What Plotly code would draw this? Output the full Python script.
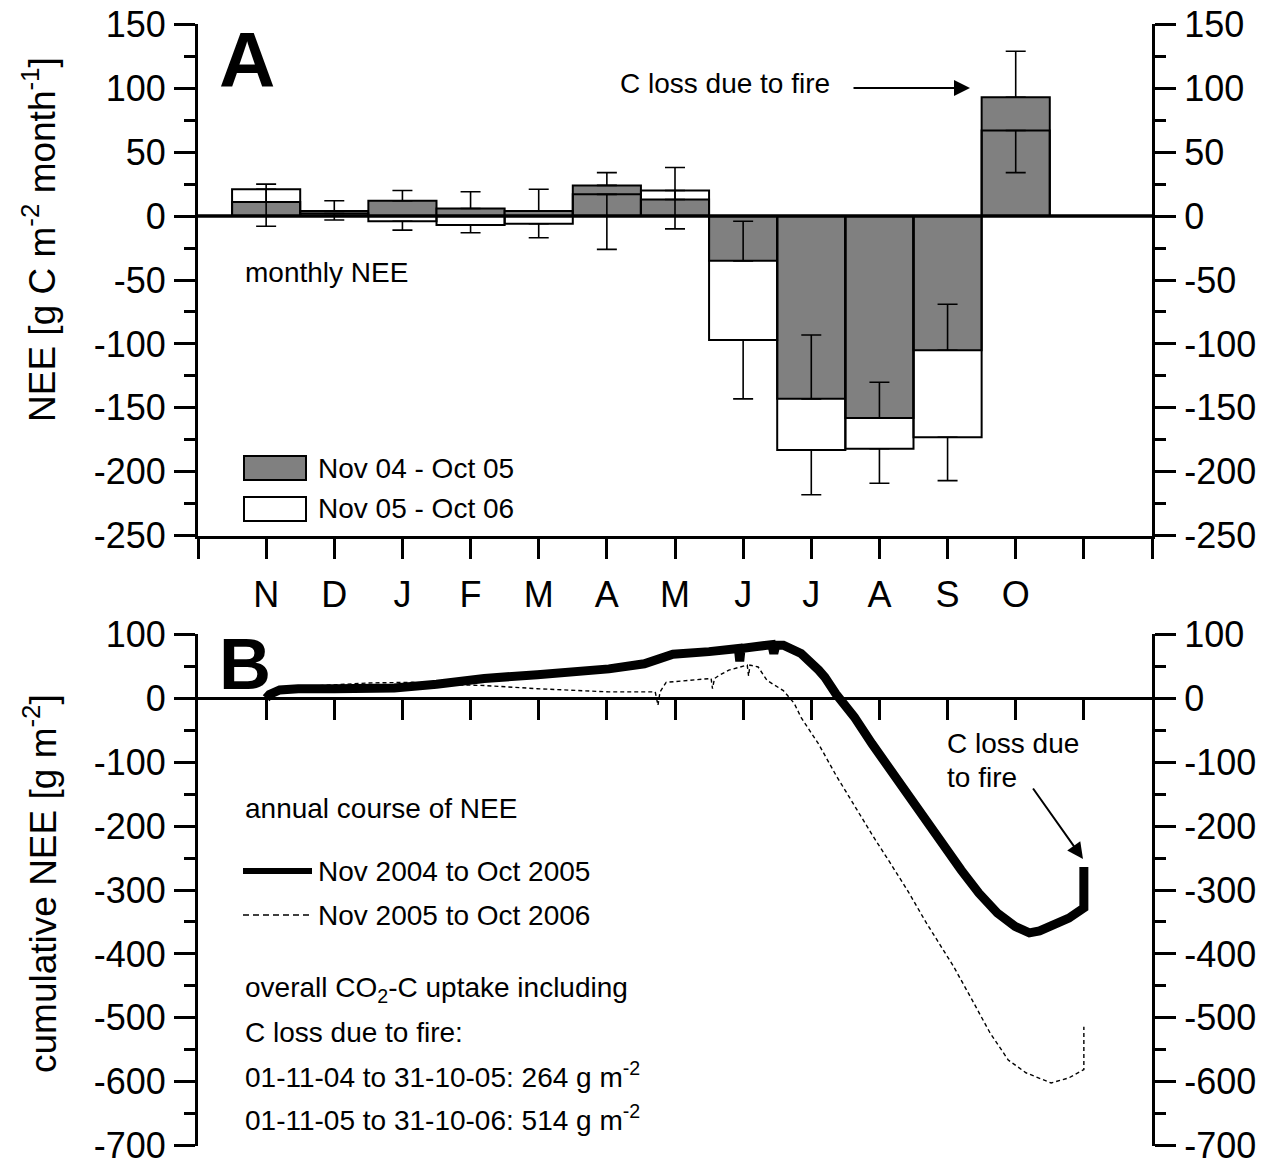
import plotly.graph_objects as go

W, H = 1264, 1163
FONT = "Liberation Sans, Arial, Helvetica, sans-serif"

# ---- monthly NEE (panel A) ----
months = ["N", "D", "J", "F", "M", "A", "M", "J", "J", "A", "S", "O"]
month_pos = list(range(1, 13))
nee_0405 = [11, 4, 12, 6, 4, 24, 13, -35, -143, -158, -105, 93]
nee_0405_err = [14, 8, 8, 13, 17, 10, 25, 31, 50, 28, 36, 36]
nee_0506 = [21, 2, -4, -7, -6, 17, 20, -97, -183, -182, -173, 67]
nee_0506_err = [29, 5, 7, 6, 11, 43, 30, 46, 35, 27, 34, 33]

# overall CO2-C uptake incl. fire loss [g m-2]
uptake_0405 = 264
uptake_0506 = 514

# ---- cumulative NEE (panel B); time in months, 1 = 1 November ----
cum_t_0405 = [1.0, 1.05, 1.2, 1.47, 2.0, 2.88, 3.5, 4.2, 4.98, 5.5, 6.03, 6.55,
              6.87, 6.97, 7.5, 7.93, 7.95, 7.97, 8.2, 8.42, 8.45, 8.48, 8.59,
              8.85, 9.11, 9.2, 9.36, 9.63, 9.89, 10.16, 10.42, 10.68, 10.95,
              11.2, 11.46, 11.73, 11.99, 12.2, 12.35, 12.52, 12.78, 13.0, 13.0]
cum_v_0405 = [0, 6, 13, 15, 15, 16, 22, 31, 37, 41, 46, 54,
              63, 69, 73, 78, 58, 78, 81, 84, 70, 83, 83,
              70, 44, 33, 7, -29, -71, -112, -154, -191, -232,
              -269, -305, -336, -357, -367, -364, -357, -344, -328, -uptake_0405]

cum_t_0506 = [1.0, 1.1, 1.3, 1.83, 2.5, 3.14, 3.5, 4.2, 4.98, 6.03, 6.71, 6.75,
              6.78, 6.87, 7.53, 7.55, 7.58, 7.65, 7.79, 8.06, 8.08, 8.1, 8.22,
              8.35, 8.59, 8.75, 8.85, 9.11, 9.36, 9.63, 9.89, 10.16, 10.42,
              10.68, 11.09, 11.36, 11.62, 11.89, 12.15, 12.52, 12.78, 13.0, 13.0]
cum_v_0506 = [0, 8, 15, 20, 24, 25, 22, 20, 15, 10, 10, -11,
              10, 25, 31, 15, 31, 36, 44, 52, 35, 52, 49,
              28, 12, -8, -30, -72, -120, -168, -213, -258, -302,
              -350, -420, -472, -523, -566, -586, -602, -594, -581, -uptake_0506]

# ---- layout geometry (pixels of the page) ----
X_L, X_R = 198, 1152
A_TOP, A_BOT = 24, 536
B_TOP, B_BOT = 634, 1146
A_TICKS = list(range(-250, 151, 50))
B_TICKS = list(range(-700, 101, 100))
# a hair of padding keeps the end ticks inside the axis range
A_RANGE = [A_TICKS[0] - 0.3, A_TICKS[-1] + 0.3]
B_RANGE = [B_TICKS[0] - 0.6, B_TICKS[-1] + 0.6]
X_RANGE = [0, 14]


def px(x):
    return x / W


def py(y):
    return 1 - y / H


dom_x = [px(X_L), px(X_R)]
dom_a = [py(A_BOT), py(A_TOP)]
dom_b = [py(B_BOT), py(B_TOP)]
# panel B time axis sits on the zero line
zero_b = dom_b[0] + (0 - B_RANGE[0]) / (B_RANGE[1] - B_RANGE[0]) * (dom_b[1] - dom_b[0])

fig = go.Figure()

fig.add_trace(go.Bar(
    x=month_pos, y=nee_0405, width=1, name="Nov 04 - Oct 05",
    marker=dict(color="#808080", line=dict(color="black", width=2)),
    error_y=dict(type="data", symmetric=False, array=nee_0405_err,
                 arrayminus=[0] * 12, color="black", thickness=1.6, width=10),
    xaxis="x", yaxis="y", showlegend=False,
))
fig.add_trace(go.Bar(
    x=month_pos, y=nee_0506, width=1, name="Nov 05 - Oct 06",
    marker=dict(color="rgba(0,0,0,0)", line=dict(color="black", width=2)),
    error_y=dict(type="data", symmetric=False, array=[0] * 12,
                 arrayminus=nee_0506_err, color="black", thickness=1.6, width=10),
    xaxis="x", yaxis="y", showlegend=False,
))
# right-hand copy of the NEE axis
fig.add_trace(go.Scatter(x=[None], y=[None], xaxis="x", yaxis="y2",
                         showlegend=False, hoverinfo="skip"))

fig.add_trace(go.Scatter(
    x=cum_t_0506, y=cum_v_0506, mode="lines", name="Nov 2005 to Oct 2006",
    line=dict(color="black", width=1.4, dash="4px,3px"),
    xaxis="x2", yaxis="y3", showlegend=False,
))
fig.add_trace(go.Scatter(
    x=cum_t_0405, y=cum_v_0405, mode="lines", name="Nov 2004 to Oct 2005",
    line=dict(color="black", width=9),
    xaxis="x2", yaxis="y3", showlegend=False,
))
fig.add_trace(go.Scatter(x=[None], y=[None], xaxis="x2", yaxis="y4",
                         showlegend=False, hoverinfo="skip"))

tickfont = dict(family=FONT, size=36, color="black")


def yaxis(ticks, minor_step, **kw):
    return dict(tickmode="array", tickvals=ticks,
                ticktext=[str(v) for v in ticks],
                ticks="outside", ticklen=21, tickwidth=3, tickcolor="black",
                minor=dict(ticks="outside", ticklen=11, tickwidth=3,
                           tickcolor="black", dtick=minor_step, tick0=0),
                showline=True, linewidth=3, linecolor="black", showgrid=False,
                zeroline=False, tickfont=tickfont, ticklabelstandoff=1,
                ticklabeloverflow="allow",
                automargin=False, fixedrange=True, **kw)


fig.update_layout(
    template="none",
    width=W, height=H,
    margin=dict(l=0, r=0, t=0, b=0, autoexpand=False),
    paper_bgcolor="white", plot_bgcolor="white",
    barmode="overlay",
    showlegend=False,
    font=dict(family=FONT, color="black"),
    xaxis=dict(domain=dom_x, range=X_RANGE, anchor="y",
               tickmode="array", tickvals=month_pos, ticktext=months,
               ticks="outside", ticklen=20, tickwidth=3, tickcolor="black",
               minor=dict(ticks="outside", ticklen=20, tickwidth=3,
                          tickcolor="black", dtick=1, tick0=0),
               showline=True, linewidth=3, linecolor="black",
               showgrid=False, zeroline=False, tickfont=tickfont,
               ticklabelstandoff=5, automargin=False, fixedrange=True),
    yaxis=yaxis(A_TICKS, 25, domain=dom_a, range=A_RANGE, anchor="x"),
    yaxis2=yaxis(A_TICKS, 25, domain=dom_a, range=A_RANGE, anchor="x",
                 overlaying="y", side="right"),
    xaxis2=dict(domain=dom_x, range=X_RANGE, anchor="free", position=zero_b,
                tickmode="array", tickvals=list(range(1, 14)),
                showticklabels=False,
                ticks="outside", ticklen=20, tickwidth=3, tickcolor="black",
                showline=True, linewidth=3, linecolor="black",
                showgrid=False, zeroline=False, automargin=False,
                fixedrange=True),
    yaxis3=yaxis(B_TICKS, 50, domain=dom_b, range=B_RANGE, anchor="x2"),
    yaxis4=yaxis(B_TICKS, 50, domain=dom_b, range=B_RANGE, anchor="x2",
                 overlaying="y3", side="right"),
)

# zero line of panel A
fig.add_shape(type="line", xref="x", yref="y", x0=X_RANGE[0], x1=X_RANGE[1],
              y0=0, y1=0, line=dict(color="black", width=3.5))

TXT = 28


def label(x, y, text, size=TXT, anchor="left", **kw):
    fig.add_annotation(x=px(x), y=py(y), xref="paper", yref="paper",
                       text=text, showarrow=False, xanchor=anchor,
                       yanchor="middle",
                       font=dict(family=FONT, size=size, color="black"), **kw)


def arrow(x_tip, y_tip, x_tail, y_tail):
    fig.add_annotation(x=px(x_tip), y=py(y_tip), xref="paper", yref="paper",
                       ax=x_tail - x_tip, ay=y_tail - y_tip,
                       axref="pixel", ayref="pixel",
                       text="", showarrow=True, arrowhead=2, arrowsize=1.6,
                       arrowwidth=2, arrowcolor="black")


# panel letters
label(247, 60, "<b>A</b>", size=78, anchor="center")
label(245, 664, "<b>B</b>", size=72, anchor="center")

# axis titles
label(40, 240, "NEE [g C m<sup>-2</sup> month<sup>-1</sup>]", size=37,
      anchor="center", textangle=-90)
label(40, 884, "cumulative NEE [g m<sup>-2</sup>]", size=37,
      anchor="center", textangle=-90)

# panel A texts
label(243, 272, "monthly NEE")
label(618, 84, "C loss due to fire")
arrow(970, 88, 852, 88)

# panel A legend
fig.add_shape(type="rect", xref="paper", yref="paper",
              x0=px(244), x1=px(306), y0=py(480), y1=py(456),
              fillcolor="#808080", line=dict(color="black", width=2))
fig.add_shape(type="rect", xref="paper", yref="paper",
              x0=px(244), x1=px(306), y0=py(521), y1=py(497),
              fillcolor="white", line=dict(color="black", width=2))
label(316, 468, "Nov 04 - Oct 05")
label(316, 509, "Nov 05 - Oct 06")

# panel B texts
label(243, 808, "annual course of NEE")
fig.add_shape(type="line", xref="paper", yref="paper",
              x0=px(243), x1=px(312), y0=py(871), y1=py(871),
              line=dict(color="black", width=6))
fig.add_shape(type="line", xref="paper", yref="paper",
              x0=px(243), x1=px(312), y0=py(915), y1=py(915),
              line=dict(color="black", width=1.4, dash="6px,4px"))
label(316, 871, "Nov 2004 to Oct 2005")
label(316, 915, "Nov 2005 to Oct 2006")
label(243, 989, "overall CO<sub>2</sub>-C uptake including")
label(243, 1032, "C loss due to fire:")
label(243, 1075, f"01-11-04 to 31-10-05: {uptake_0405} g m<sup>-2</sup>")
label(243, 1118, f"01-11-05 to 31-10-06: {uptake_0506} g m<sup>-2</sup>")

label(945, 743, "C loss due")
label(945, 777, "to fire")
arrow(1083, 859, 1032, 787)

fig.write_html("out.html")
